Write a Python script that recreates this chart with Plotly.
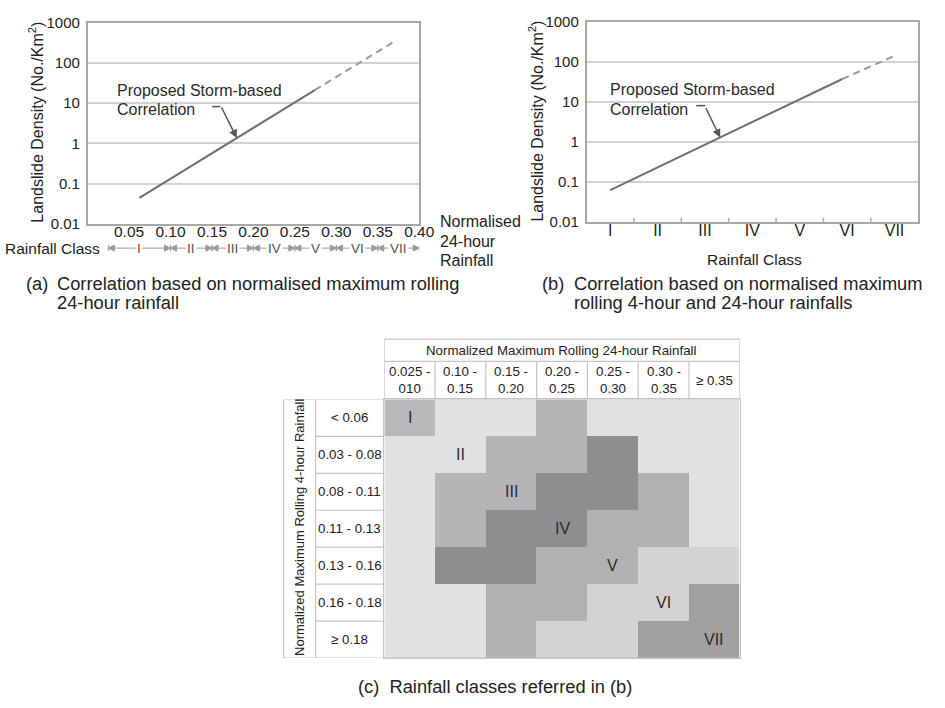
import numpy as np
import plotly.graph_objects as go

W, H = 945, 708
FONT = "Liberation Sans, Arial, Helvetica, sans-serif"
TXT = "#222222"

# ---------------- data : panel (a) ----------------
A_TICKS = [0.05, 0.10, 0.15, 0.20, 0.25, 0.30, 0.35, 0.40]
A_TICK_TEXT = ["0.05", "0.10", "0.15", "0.20", "0.25", "0.30", "0.35", "0.40"]
Y_TICKS = [0.01, 0.1, 1, 10, 100, 1000]
Y_TICK_TEXT = ["0.01", "0.1", "1", "10", "100", "1000"]
A_SOLID_X = [0.0625, 0.274]
A_SOLID_Y = [0.044, 21.0]
A_DASH_X = [0.274, 0.371]
A_DASH_Y = [21.0, 350.0]
A_CLASS_EDGES = [0.025, 0.10, 0.15, 0.20, 0.25, 0.30, 0.35, 0.40]
CLASS_NAMES = ["I", "II", "III", "IV", "V", "VI", "VII"]
A_ARROW_X = 0.18

# ---------------- data : panel (b) ----------------
B_CLASS_POS = [1, 2, 3, 4, 5, 6, 7]
B_CLASS_BOUNDS = [1.5, 2.5, 3.5, 4.5, 5.5, 6.5]
B_SOLID_X = [1.0, 5.9]
B_SOLID_Y = [0.062, 37.0]
B_DASH_X = [5.9, 6.97]
B_DASH_Y = [37.0, 135.0]
B_ARROW_X = 3.32

# ---------------- data : table (c) ----------------
COL_HEADERS = ["0.025 -<br>010", "0.10 -<br>0.15", "0.15 -<br>0.20", "0.20 -<br>0.25",
               "0.25 -<br>0.30", "0.30 -<br>0.35", "≥ 0.35"]
ROW_HEADERS = ["< 0.06", "0.03 - 0.08", "0.08 - 0.11", "0.11 - 0.13",
               "0.13 - 0.16", "0.16 - 0.18", "≥ 0.18"]
# 0 = unclassified region (top right), 1..7 = class I..VII
CLASS_GRID = [
    [1, 2, 2, 3, 0, 0, 0],
    [2, 2, 3, 3, 4, 0, 0],
    [2, 3, 3, 4, 4, 5, 0],
    [2, 3, 4, 4, 5, 5, 0],
    [2, 4, 4, 5, 5, 6, 6],
    [2, 2, 5, 5, 6, 6, 7],
    [2, 2, 5, 6, 6, 7, 7],
]
CLASS_COLORS = ["#e1e1e3", "#b8b8bb", "#e1e1e3", "#b5b5b8", "#8e8e91",
                "#b1b1b4", "#d3d3d5", "#a0a0a3"]


def PX(x):
    return x / W


def PY(y):
    return 1 - y / H


fig = go.Figure()

LINE_SOLID = "#707070"
LINE_DASH = "#9a9a9a"

# panel (a) lines
fig.add_trace(go.Scatter(x=A_SOLID_X, y=A_SOLID_Y, mode="lines",
                         line=dict(color=LINE_SOLID, width=2), xaxis="x", yaxis="y",
                         hoverinfo="skip", showlegend=False))
fig.add_trace(go.Scatter(x=A_DASH_X, y=A_DASH_Y, mode="lines",
                         line=dict(color=LINE_DASH, width=2, dash="7px,5px"), xaxis="x", yaxis="y",
                         hoverinfo="skip", showlegend=False))

# panel (b) lines
fig.add_trace(go.Scatter(x=B_SOLID_X, y=B_SOLID_Y, mode="lines",
                         line=dict(color=LINE_SOLID, width=2), xaxis="x2", yaxis="y2",
                         hoverinfo="skip", showlegend=False))
fig.add_trace(go.Scatter(x=B_DASH_X, y=B_DASH_Y, mode="lines",
                         line=dict(color=LINE_DASH, width=2, dash="7px,5px"), xaxis="x2", yaxis="y2",
                         hoverinfo="skip", showlegend=False))

# rainfall class strip for (a)
annotations = []
for i, name in enumerate(CLASS_NAMES):
    x0, x1 = A_CLASS_EDGES[i], A_CLASS_EDGES[i + 1]
    fig.add_trace(go.Scatter(x=[x0, x1], y=[0.5, 0.5], mode="lines+markers",
                             line=dict(color="#9a9a9a", width=1),
                             marker=dict(symbol=["arrow-bar-left", "arrow-bar-right"], size=6,
                                         color="#9a9a9a", line=dict(width=1, color="#9a9a9a")),
                             xaxis="x4", yaxis="y4", hoverinfo="skip", showlegend=False))
    annotations.append(dict(x=(x0 + x1) / 2, y=0.5, xref="x4", yref="y4", text=name,
                            showarrow=False, bgcolor="white", borderpad=1,
                            font=dict(size=13.5, color="#555555", family=FONT)))

# table heatmap
n = len(CLASS_COLORS)
cs = []
for k, c in enumerate(CLASS_COLORS):
    cs.append([k / n, c])
    cs.append([(k + 1) / n, c])
fig.add_trace(go.Heatmap(z=CLASS_GRID, x=list(range(7)), y=list(range(7)),
                         colorscale=cs, zmin=-0.5, zmax=n - 0.5, showscale=False,
                         xaxis="x3", yaxis="y3", hoverinfo="skip"))

axis_common = dict(showline=True, mirror=True, linecolor="#a8a8a8", linewidth=1.5,
                   zeroline=False)

fig.update_layout(
    width=W, height=H, margin=dict(l=0, r=0, t=0, b=0),
    paper_bgcolor="white", plot_bgcolor="white",
    font=dict(family=FONT, color=TXT),
    showlegend=False,
    xaxis=dict(domain=[PX(89), PX(426)], range=[0, 0.4], tickvals=A_TICKS, ticktext=A_TICK_TEXT,
               showgrid=False, ticks="", tickfont=dict(size=15.5, color=TXT),
               ticklabelstandoff=-7, anchor="y", **axis_common),
    yaxis=dict(domain=[PY(220), PY(14)], type="log", range=[-2, 3], tickvals=Y_TICKS,
               ticktext=Y_TICK_TEXT, showgrid=True, gridcolor="#d2d2d2", gridwidth=2,
               ticks="", tickfont=dict(size=15, color=TXT), ticklabelstandoff=3,
               anchor="x", **axis_common),
    xaxis2=dict(domain=[PX(596), PX(933)], range=[0.5, 7.5], tickvals=B_CLASS_POS,
                ticktext=CLASS_NAMES, showgrid=False, ticks="", tickfont=dict(size=16, color=TXT),
                ticklabelstandoff=-7, anchor="y2", **axis_common),
    yaxis2=dict(domain=[PY(218), PY(13)], type="log", range=[-2, 3], tickvals=Y_TICKS,
                ticktext=Y_TICK_TEXT, showgrid=True, gridcolor="#d2d2d2", gridwidth=2,
                ticks="", tickfont=dict(size=15, color=TXT), ticklabelstandoff=3,
                anchor="x2", **axis_common),
    xaxis3=dict(domain=[PX(390.5), PX(751.7)], range=[-0.5, 6.5], showticklabels=False,
                ticks="", showgrid=False, zeroline=False, showline=True, mirror=True,
                linecolor="#c4c4c4", linewidth=1.2, anchor="y3"),
    yaxis3=dict(domain=[PY(665), PY(400)], range=[6.5, -0.5], showticklabels=False,
                ticks="", showgrid=False, zeroline=False, showline=True, mirror=True,
                linecolor="#c4c4c4", linewidth=1.2, anchor="x3"),
    xaxis4=dict(domain=[PX(89), PX(426)], range=[0, 0.4], visible=False, anchor="y4"),
    yaxis4=dict(domain=[PY(252), PY(238)], range=[0, 1], visible=False, anchor="x4"),
)

# ---------- text annotations ----------
def ann(x, y, text, size=15, xanchor="left", yanchor="middle", align="left", angle=0,
        color=TXT, xref="paper", yref="paper"):
    annotations.append(dict(x=x, y=y, xref=xref, yref=yref, text=text, showarrow=False,
                            xanchor=xanchor, yanchor=yanchor, align=align, textangle=angle,
                            font=dict(size=size, color=color, family=FONT)))


# axis titles
ann(PX(37), PY(116), "Landslide Density (No./Km<sup>2</sup>)", size=16, xanchor="center",
    angle=-90)
ann(PX(545), PY(115), "Landslide Density (No./Km<sup>2</sup>)", size=16, xanchor="center",
    angle=-90)
ann(PX(445), PY(218), "Normalised", size=16)
ann(PX(445), PY(238), "24-hour", size=16)
ann(PX(445), PY(258), "Rainfall", size=16)
ann(PX(104), PY(245), "Rainfall Class", size=15.5, xanchor="right")
ann(PX(766.7), PY(257), "Rainfall Class", size=15.5, xanchor="center")

# correlation labels
for xl, yl in [(116.5, 83), (617.5, 82.5)]:
    ann(PX(xl), PY(yl), "Proposed Storm-based", size=16, color="#2a2a2a")
    ann(PX(xl), PY(yl + 20), "Correlation", size=16, color="#2a2a2a")

# arrows to line
ya = np.interp(A_ARROW_X, A_SOLID_X, np.log10(A_SOLID_Y))
annotations.append(dict(x=A_ARROW_X, y=ya, xref="x", yref="y", ax=-16, ay=-32, text="",
                        showarrow=True, arrowhead=2, arrowsize=1.1, arrowwidth=1.5,
                        arrowcolor="#555555", font=dict(size=1), standoff=0, startstandoff=0))
yb = np.interp(B_ARROW_X, B_SOLID_X, np.log10(B_SOLID_Y))
annotations.append(dict(x=B_ARROW_X, y=yb, xref="x2", yref="y2", ax=-15, ay=-31, text="",
                        showarrow=True, arrowhead=2, arrowsize=1.1, arrowwidth=1.5,
                        arrowcolor="#555555", font=dict(size=1), standoff=0, startstandoff=0))

# captions
CAP = 18.3
ann(PX(24), PY(281), "(a)", size=CAP)
ann(PX(56), PY(281), "Correlation based on normalised maximum rolling", size=CAP)
ann(PX(56), PY(301), "24-hour rainfall", size=CAP)
ann(PX(549), PY(281), "(b)", size=CAP)
ann(PX(581.5), PY(281), "Correlation based on normalised maximum", size=CAP)
ann(PX(581.5), PY(301), "rolling 4-hour and 24-hour rainfalls", size=CAP)
ann(PX(503), PY(694), "(c)  Rainfall classes referred in (b)", size=CAP, xanchor="center")

# table header texts
TF = 13.3
ann(PX(571), PY(350), "Normalized Maximum Rolling 24-hour Rainfall", size=TF,
    xanchor="center")
for i, t in enumerate(COL_HEADERS):
    ann(i, PY(380.5), t, size=TF, xanchor="center", align="center", xref="x3")
for j, t in enumerate(ROW_HEADERS):
    ann(PX(355.6), j, t, size=TF, xanchor="center", align="center", yref="y3")
ann(PX(304.5), PY(531), "Normalized Maximum Rolling 4-hour Rainfall", size=13,
    xanchor="center", angle=-90)
for i, name in enumerate(CLASS_NAMES):
    ann(i, i, name, size=16, xanchor="center", xref="x3", yref="y3", color="#2a2a2a")

# ---------- shapes ----------
shapes = []
LC = "#c4c4c4"
LW = 1.2


def seg(x0, y0, x1, y1, xref="paper", yref="paper", color=LC, width=LW):
    shapes.append(dict(type="line", x0=x0, y0=y0, x1=x1, y1=y1, xref=xref, yref=yref,
                       line=dict(color=color, width=width)))


# small class-boundary ticks on panel (b) x axis (inside)
for b in B_CLASS_BOUNDS:
    seg(b, PY(218), b, PY(214), xref="x2", color="#a8a8a8", width=1.5)

# bent arrow tails
seg(PX(215.5), PY(100), PX(224), PY(100), color="#555555", width=1.5)
seg(PX(707.5), PY(99), PX(716.5), PY(99), color="#555555", width=1.5)

# header box
seg(-0.5, PY(338.3), 6.5, PY(338.3), xref="x3")
seg(-0.5, PY(361), 6.5, PY(361), xref="x3")
seg(-0.5, PY(338.3), -0.5, PY(400), xref="x3")
seg(6.5, PY(338.3), 6.5, PY(400), xref="x3")
for i in range(1, 7):
    seg(i - 0.5, PY(361), i - 0.5, PY(400), xref="x3")
# row header block
seg(PX(288.3), -0.5, PX(751.7), -0.5, yref="y3")
seg(PX(288.3), 6.5, PX(751.7), 6.5, yref="y3")
seg(PX(288.3), -0.5, PX(288.3), 6.5, yref="y3")
seg(PX(320.7), -0.5, PX(320.7), 6.5, yref="y3")
for j in range(1, 7):
    seg(PX(320.7), j - 0.5, PX(390.5), j - 0.5, yref="y3")

fig.update_layout(annotations=annotations, shapes=shapes)

fig.write_html("out.html")
